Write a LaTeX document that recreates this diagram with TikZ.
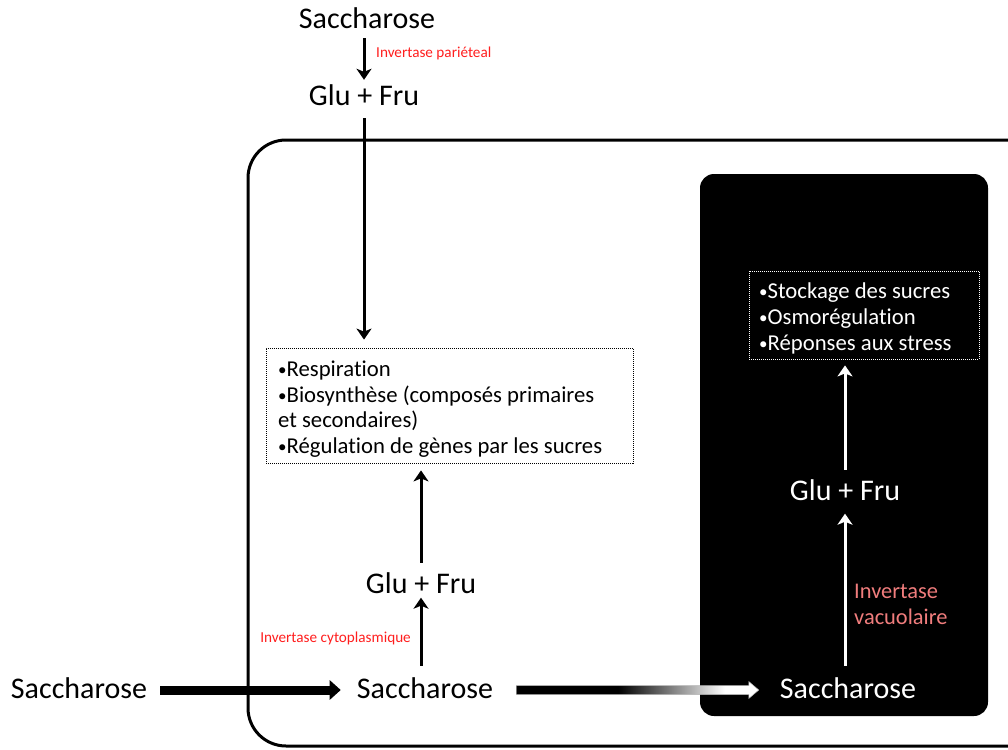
\documentclass[tikz,border=0pt]{standalone}
\usepackage{fontspec}
\setmainfont[Ligatures=NoCommon]{Carlito}
\usetikzlibrary{arrows.meta,calc}
% black-to-white fade used for the sucrose import into the vacuole
\pgfdeclarehorizontalshading{bwfade}{100bp}{color(0bp)=(black); color(46bp)=(black); color(68bp)=(white); color(100bp)=(white)}
\definecolor{enzred}{RGB}{255,30,30}
\definecolor{vacred}{RGB}{240,125,125}
\newcommand{\bul}{{\fontsize{17}{17}\selectfont\raisebox{1pt}{•}}}

\begin{document}
\begin{tikzpicture}[x=1pt,y=-1pt,
  big/.style={font=\fontsize{30}{36}\selectfont, inner sep=0pt, text height=21pt, text depth=4pt},
  enz/.style={font=\fontsize{15.2}{18}\selectfont, text=enzred, inner sep=0pt},
  frame/.style={draw, dash pattern=on 1pt off 1pt, line width=0.8pt, inner sep=0pt},
  listtext/.style={align=left, font=\fontsize{22.7}{25.7}\selectfont, inner sep=0pt, anchor=west},
  thinarr/.style={line width=3pt, -{Stealth[length=11pt,width=15pt,inset=3pt]}},
  thickarr/.style={line width=9pt, -{Triangle[length=11pt,width=19pt]}},
]
\useasboundingbox (0,0) rectangle (1008,749);
\clip (0,0) rectangle (1008,749);

% cell outline and vacuole
\draw[line width=3pt, rounded corners=38pt] (248,140) rectangle (1060,746);
\fill[rounded corners=14pt] (700,174) rectangle (988,716);

% apoplast
\node[big] (sTop) at (367,20) {Saccharose};
\node[big] (gTop) at (364,97) {Glu + Fru};
\node[enz, anchor=west] (invP) at (376,53) {Invertase pariéteal};

% cytoplasm
\node[frame, minimum width=367pt, minimum height=115pt] (cyto) at (449.5,405.5) {};
\node[listtext] (cytoTxt) at (278,409)
  {\bul Respiration\\\bul Biosynthèse (composés primaires\\et secondaires)\\\bul Régulation de gènes par les sucres};
\node[big] (gMid) at (421,585) {Glu + Fru};
\node[big] (sMid) at (425,690) {Saccharose};
\node[big] (sLeft) at (79,690) {Saccharose};
\node[enz, anchor=east] (invC) at (411,638) {Invertase cytoplasmique};

% vacuole
\node[frame, draw=white, minimum width=230pt, minimum height=88pt] (vac) at (864,315) {};
\node[listtext, text=white] (vacTxt) at (759,318.5)
  {\bul Stockage des sucres\\\bul Osmorégulation\\\bul Réponses aux stress};
\node[big, text=white] (gRight) at (845,492) {Glu + Fru};
\node[big, text=white] (sRight) at (848,690) {Saccharose};
\node[font=\fontsize{22.4}{26}\selectfont, text=vacred, align=left, anchor=west, inner sep=0pt] (invV) at (854,604)
  {Invertase\\vacuolaire};

% connectors
\draw[thinarr, shorten <=5.5pt, shorten >=4.5pt] (sTop.south -| gTop.north) -- (gTop.north);
\draw[thinarr, shorten <=8.5pt, shorten >=8pt] (gTop.south) -- (gTop.south |- cyto.north);
\draw[thinarr, shorten <=11.5pt] (gMid.south |- sMid.north) -- (gMid.south);
\draw[thinarr, shorten <=9.5pt, shorten >=7pt] (gMid.north) -- (gMid.north |- cyto.south);
\draw[thickarr, shorten <=13pt, shorten >=16pt] (sLeft.east) -- (sMid.west);
\shade[shading=bwfade, draw=black!30, line width=0.5pt]
  ($(sMid.east)+(23,-4.5)$) -- ($(sRight.west)+(-31,-4.5)$) -- ($(sRight.west)+(-31,-8.5)$)
  -- ($(sRight.west)+(-21,0)$) -- ($(sRight.west)+(-31,8.5)$) -- ($(sRight.west)+(-31,4.5)$)
  -- ($(sMid.east)+(23,4.5)$) -- cycle;
\draw[thinarr, white, shorten <=11.5pt, shorten >=9pt] (gRight.south |- sRight.north) -- (gRight.south);
\draw[thinarr, white, shorten <=9.5pt, shorten >=6pt] (gRight.north) -- (gRight.north |- vac.south);
\end{tikzpicture}
\end{document}
